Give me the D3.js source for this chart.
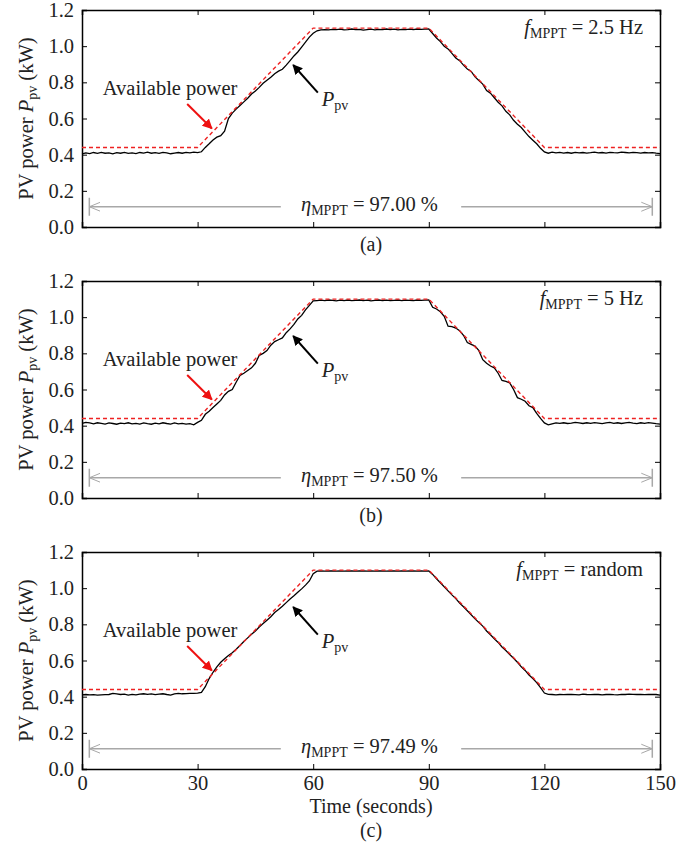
<!DOCTYPE html>
<html>
<head>
<meta charset="utf-8">
<script src="https://cdn.jsdelivr.net/npm/d3@7"></script>
<style>
  body { margin: 0; background: #fff; }
  text { font-family: "Liberation Serif", "Times New Roman", serif; fill: #222; }
</style>
</head>
<body>
<div id="chart"></div>
<script>
var svgWidth = 699;
var svgHeight = 846;

var margin = { left: 82, right: 39 };
var panelHeight = 217;
var panelTops = [10, 281, 552];
var width = svgWidth - margin.left - margin.right;

// sample times (s), one sample per second
var time = d3.range(0, 151, 1);

// available power (kW) breakpoints
var availTime = [0, 30, 60, 90, 120, 150];
var availPower = [0.44, 0.44, 1.10, 1.10, 0.44, 0.44];

// measured PV power (kW), panel (a) f = 2.5 Hz
var ppvA = [
  0.405, 0.410, 0.406, 0.412, 0.407, 0.413, 0.408, 0.410, 0.405, 0.411,
  0.408, 0.413, 0.407, 0.410, 0.406, 0.412, 0.409, 0.414, 0.408, 0.411,
  0.407, 0.413, 0.410, 0.405, 0.409, 0.412, 0.408, 0.413, 0.410, 0.414,
  0.411,
  0.416, 0.440, 0.460, 0.481, 0.497, 0.505, 0.530, 0.600, 0.630, 0.652,
  0.672, 0.692, 0.712, 0.735, 0.752, 0.772, 0.795, 0.812, 0.828, 0.848,
  0.862, 0.872, 0.895, 0.920, 0.946, 0.968, 0.995, 1.022, 1.050, 1.071,
  1.085, 1.090, 1.092, 1.090, 1.093, 1.091, 1.094, 1.090, 1.092, 1.095,
  1.091, 1.093, 1.089, 1.092, 1.094, 1.090, 1.093, 1.091, 1.095, 1.092,
  1.094, 1.090, 1.093, 1.091, 1.094, 1.092, 1.095, 1.093, 1.094, 1.095,
  1.070, 1.045, 1.025, 1.000, 0.985, 0.960, 0.935, 0.920, 0.895, 0.874,
  0.860, 0.830, 0.810, 0.790, 0.755, 0.740, 0.715, 0.690, 0.670, 0.640,
  0.620, 0.590, 0.568, 0.550, 0.525, 0.500, 0.480, 0.460, 0.435, 0.415,
  0.408, 0.414, 0.410, 0.413, 0.409, 0.412, 0.408, 0.413, 0.410, 0.412,
  0.409, 0.411, 0.414, 0.410, 0.412, 0.409, 0.413, 0.411, 0.410, 0.414,
  0.412, 0.410, 0.413, 0.411, 0.409, 0.412, 0.410, 0.411, 0.408, 0.406
];

// panel (b) f = 5 Hz
var ppvB = [
  0.412, 0.418, 0.415, 0.410, 0.416, 0.413, 0.409, 0.415, 0.412, 0.408,
  0.414, 0.411, 0.416, 0.410, 0.413, 0.409, 0.415, 0.411, 0.408, 0.414,
  0.410, 0.416, 0.412, 0.409, 0.415, 0.410, 0.413, 0.409, 0.411, 0.405,
  0.418,
  0.430, 0.463, 0.480, 0.500, 0.520, 0.540, 0.570, 0.590, 0.600, 0.640,
  0.678, 0.690, 0.705, 0.720, 0.745, 0.789, 0.800, 0.815, 0.845, 0.865,
  0.875, 0.885, 0.914, 0.935, 0.960, 0.990, 1.010, 1.040, 1.065, 1.090,
  1.092, 1.094, 1.091, 1.095, 1.093, 1.090, 1.094, 1.092, 1.095, 1.091,
  1.093, 1.095, 1.092, 1.094, 1.090, 1.093, 1.095, 1.092, 1.094, 1.091,
  1.093, 1.095, 1.092, 1.094, 1.093, 1.091, 1.095, 1.093, 1.094, 1.095,
  1.055, 1.045, 1.030, 1.005, 0.950, 0.948, 0.940, 0.925, 0.900, 0.860,
  0.850, 0.840, 0.815, 0.765, 0.745, 0.730, 0.720, 0.690, 0.650, 0.645,
  0.637, 0.600, 0.555, 0.546, 0.535, 0.510, 0.500, 0.468, 0.440, 0.415,
  0.405, 0.410, 0.415, 0.413, 0.416, 0.412, 0.414, 0.418, 0.415, 0.412,
  0.416, 0.413, 0.417, 0.414, 0.411, 0.415, 0.418, 0.413, 0.416, 0.412,
  0.415, 0.418, 0.414, 0.411, 0.416, 0.413, 0.417, 0.414, 0.411, 0.409
];

// panel (c) f = random
var ppvC = [
  0.410, 0.412, 0.410, 0.411, 0.409, 0.410, 0.411, 0.412, 0.418, 0.415,
  0.412, 0.414, 0.409, 0.413, 0.410, 0.414, 0.416, 0.413, 0.415, 0.411,
  0.414, 0.416, 0.412, 0.409, 0.415, 0.418, 0.416, 0.417, 0.418, 0.418,
  0.420,
  0.424, 0.455, 0.500, 0.535, 0.565, 0.590, 0.610, 0.628, 0.643, 0.662,
  0.683, 0.705, 0.725, 0.745, 0.763, 0.785, 0.804, 0.823, 0.842, 0.865,
  0.882, 0.900, 0.920, 0.940, 0.958, 0.977, 0.996, 1.017, 1.040, 1.080,
  1.094, 1.095, 1.094, 1.095, 1.095, 1.094, 1.095, 1.094, 1.095, 1.095,
  1.094, 1.095, 1.095, 1.094, 1.095, 1.094, 1.095, 1.095, 1.094, 1.095,
  1.095, 1.094, 1.095, 1.094, 1.095, 1.095, 1.094, 1.095, 1.094, 1.095,
  1.076, 1.052, 1.030, 1.008, 0.985, 0.963, 0.942, 0.918, 0.897, 0.875,
  0.853, 0.830, 0.810, 0.790, 0.763, 0.742, 0.720, 0.700, 0.675, 0.655,
  0.633, 0.612, 0.590, 0.565, 0.545, 0.520, 0.500, 0.478, 0.450, 0.420,
  0.413, 0.412, 0.410, 0.412, 0.411, 0.413, 0.412, 0.411, 0.410, 0.414,
  0.412, 0.411, 0.413, 0.412, 0.410, 0.412, 0.413, 0.411, 0.410, 0.413,
  0.412, 0.414, 0.413, 0.412, 0.413, 0.411, 0.412, 0.413, 0.412, 0.408
];

var panelSeries = [ppvA, ppvB, ppvC];
var freqLabels = ["2.5 Hz", "5 Hz", "random"];
var etaLabels = ["97.00", "97.50", "97.49"];
var panelLetters = ["(a)", "(b)", "(c)"];

var xTicks = [0, 30, 60, 90, 120, 150];
var yTicks = [0.0, 0.2, 0.4, 0.6, 0.8, 1.0, 1.2];

var svg = d3.select("#chart")
  .append("svg")
  .attr("width", svgWidth)
  .attr("height", svgHeight);

// arrow markers
var defs = svg.append("defs");
defs.append("marker")
  .attr("id", "headRed")
  .attr("viewBox", "0 -5 10 10")
  .attr("refX", 9).attr("refY", 0)
  .attr("markerWidth", 5).attr("markerHeight", 5)
  .attr("markerUnits", "strokeWidth")
  .attr("orient", "auto")
  .append("path").attr("d", "M0,-5L10,0L0,5Z").attr("fill", "#ee1111");
defs.append("marker")
  .attr("id", "headBlack")
  .attr("viewBox", "0 -5 10 10")
  .attr("refX", 9).attr("refY", 0)
  .attr("markerWidth", 5).attr("markerHeight", 5)
  .attr("markerUnits", "strokeWidth")
  .attr("orient", "auto")
  .append("path").attr("d", "M0,-5L10,0L0,5Z").attr("fill", "#000");
defs.append("marker")
  .attr("id", "chevron")
  .attr("viewBox", "0 -6 12 12")
  .attr("refX", 11).attr("refY", 0)
  .attr("markerWidth", 8).attr("markerHeight", 8)
  .attr("markerUnits", "strokeWidth")
  .attr("orient", "auto")
  .append("path").attr("d", "M0,-4.5L11,0L0,4.5")
  .attr("fill", "none").attr("stroke", "#a8a8a8").attr("stroke-width", 1);

var x = d3.scaleLinear().domain([0, 150]).range([0, width]);

panelSeries.forEach(function(series, i) {
  var g = svg.append("g")
    .attr("transform", `translate(${margin.left}, ${panelTops[i]})`);

  var y = d3.scaleLinear().domain([0, 1.2]).range([panelHeight, 0]);

  // axes with inward ticks on all four sides
  var showX = i === 2;
  g.append("g")
    .attr("class", "axis")
    .attr("transform", `translate(0, ${panelHeight})`)
    .call(d3.axisBottom(x).tickValues(xTicks).tickSize(-5).tickPadding(showX ? 6 : 0)
      .tickFormat(showX ? d3.format("d") : ""));
  g.append("g")
    .attr("class", "axis")
    .call(d3.axisTop(x).tickValues(xTicks).tickSize(-5).tickFormat(""));
  g.append("g")
    .attr("class", "axis")
    .call(d3.axisLeft(y).tickValues(yTicks).tickSize(-5).tickPadding(8).tickFormat(d3.format(".1f")));
  g.append("g")
    .attr("class", "axis")
    .attr("transform", `translate(${width}, 0)`)
    .call(d3.axisRight(y).tickValues(yTicks).tickSize(-5).tickFormat(""));

  g.selectAll(".axis path").attr("stroke", "#000").attr("stroke-width", 1.5);
  g.selectAll(".axis line").attr("stroke", "#000").attr("stroke-width", 1);
  g.selectAll(".axis text")
    .attr("font-family", "Liberation Serif")
    .attr("font-size", 20.5)
    .attr("fill", "#222");

  // measured power
  var line = d3.line()
    .x((d, k) => x(time[k]))
    .y(d => y(d));
  g.append("path")
    .datum(series)
    .attr("fill", "none")
    .attr("stroke", "#000")
    .attr("stroke-width", 1.3)
    .attr("d", line);

  // available power
  var availLine = d3.line()
    .x((d, k) => x(availTime[k]))
    .y(d => y(d));
  g.append("path")
    .datum(availPower)
    .attr("fill", "none")
    .attr("stroke", "#ee2222")
    .attr("stroke-width", 1.4)
    .attr("stroke-dasharray", "4,3")
    .attr("d", availLine);

  // "Available power" annotation
  g.append("text")
    .attr("x", x(5.4))
    .attr("y", y(0.73))
    .attr("font-size", 20.5)
    .text("Available power");
  g.append("line")
    .attr("x1", x(27.3)).attr("y1", y(0.68))
    .attr("x2", x(33.7)).attr("y2", y(0.545))
    .attr("stroke", "#ee1111")
    .attr("stroke-width", 2)
    .attr("marker-end", "url(#headRed)");

  // P_pv annotation
  g.append("line")
    .attr("x1", x(61.2)).attr("y1", y(0.743))
    .attr("x2", x(54.8)).attr("y2", y(0.896))
    .attr("stroke", "#000")
    .attr("stroke-width", 2)
    .attr("marker-end", "url(#headBlack)");
  var pt = g.append("text")
    .attr("x", x(62.2))
    .attr("y", y(0.668))
    .attr("font-size", 20.5);
  pt.append("tspan").attr("font-style", "italic").text("P");
  pt.append("tspan").attr("font-size", 14).attr("dy", 4).text("pv");

  // f_MPPT label
  var ft = g.append("text")
    .attr("x", x(145.6))
    .attr("y", y(1.065))
    .attr("text-anchor", "end")
    .attr("font-size", 20.5);
  ft.append("tspan").attr("font-style", "italic").text("f");
  ft.append("tspan").attr("font-size", 14).attr("dy", 4).text("MPPT");
  ft.append("tspan").attr("dy", -4).text(" = " + freqLabels[i]);

  // efficiency span arrows
  var etaY = y(0.112);
  g.append("line")
    .attr("x1", x(51.6)).attr("y1", etaY)
    .attr("x2", x(1.9)).attr("y2", etaY)
    .attr("stroke", "#a8a8a8").attr("stroke-width", 1.5)
    .attr("marker-end", "url(#chevron)");
  g.append("line")
    .attr("x1", x(98.4)).attr("y1", etaY)
    .attr("x2", x(148)).attr("y2", etaY)
    .attr("stroke", "#a8a8a8").attr("stroke-width", 1.5)
    .attr("marker-end", "url(#chevron)");
  [1.9, 148].forEach(function(t) {
    g.append("line")
      .attr("x1", x(t)).attr("x2", x(t))
      .attr("y1", etaY - 9).attr("y2", etaY + 9)
      .attr("stroke", "#a8a8a8").attr("stroke-width", 1.5);
  });
  var et = g.append("text")
    .attr("x", x(74.6))
    .attr("y", y(0.09))
    .attr("text-anchor", "middle")
    .attr("font-size", 20.5);
  et.append("tspan").attr("font-style", "italic").text("η");
  et.append("tspan").attr("font-size", 14).attr("dy", 4).text("MPPT");
  et.append("tspan").attr("dy", -4).text(" = " + etaLabels[i] + " %");

  // y axis label
  var yl = g.append("text")
    .attr("transform", "rotate(-90)")
    .attr("x", -panelHeight / 2)
    .attr("y", -49)
    .attr("text-anchor", "middle")
    .attr("font-size", 20.5);
  yl.append("tspan").text("PV power ");
  yl.append("tspan").attr("font-style", "italic").text("P");
  yl.append("tspan").attr("font-size", 14).attr("dy", 4).text("pv");
  yl.append("tspan").attr("dy", -4).text(" (kW)");

  // x axis title on the last panel
  if (showX) {
    g.append("text")
      .attr("x", width / 2)
      .attr("y", panelHeight + 44)
      .attr("text-anchor", "middle")
      .attr("font-size", 20)
      .text("Time (seconds)");
  }

  // panel letter
  g.append("text")
    .attr("x", width / 2)
    .attr("y", showX ? panelHeight + 68 : panelHeight + 24)
    .attr("text-anchor", "middle")
    .attr("font-size", 20)
    .text(panelLetters[i]);
});
</script>
</body>
</html>
